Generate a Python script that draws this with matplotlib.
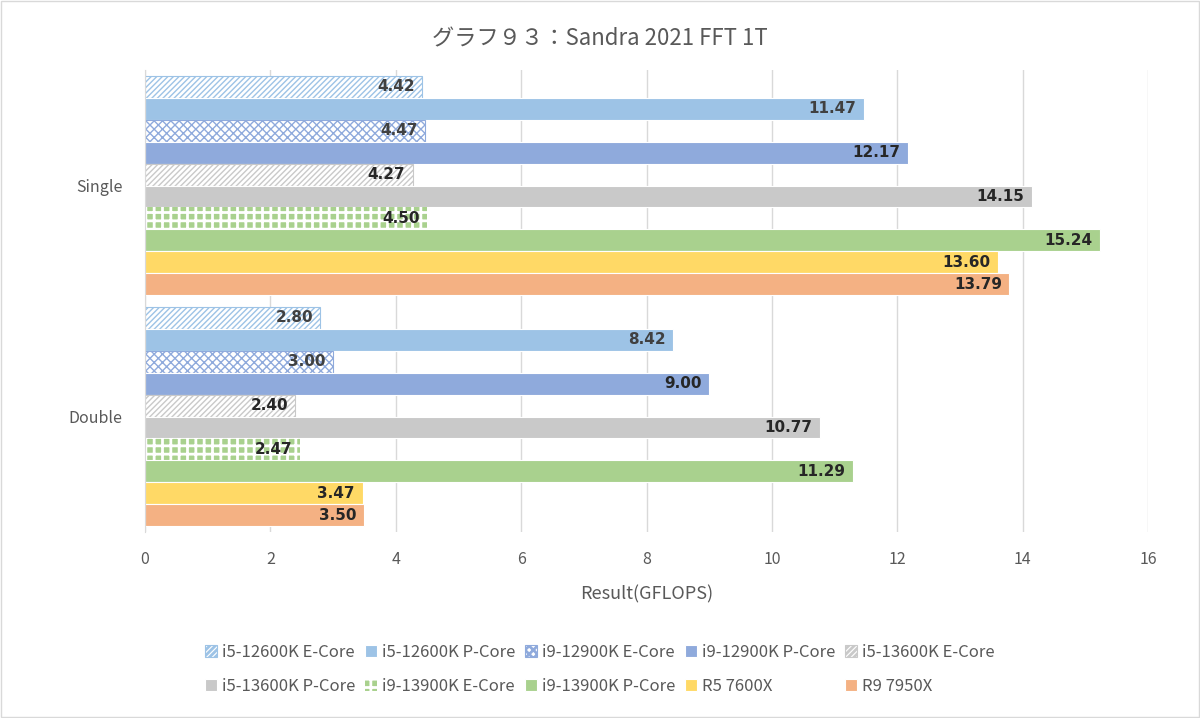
import matplotlib.pyplot as plt
import numpy as np

plt.rcParams['font.family'] = ['Noto Sans CJK JP', 'DejaVu Sans']

# データ
categories = ["Single", "Double"]
series = ["i5-12600K E-Core", "i5-12600K P-Core", "i9-12900K E-Core", "i9-12900K P-Core",
          "i5-13600K E-Core", "i5-13600K P-Core", "i9-13900K E-Core", "i9-13900K P-Core",
          "R5 7600X", "R9 7950X"]
single = [4.42, 11.47, 4.47, 12.17, 4.27, 14.15, 4.50, 15.24, 13.60, 13.79]
double = [2.80, 8.42, 3.00, 9.00, 2.40, 10.77, 2.47, 11.29, 3.47, 3.50]

colors = ["#9DC3E6", "#9DC3E6", "#8FAADC", "#8FAADC", "#C9C9C9", "#C9C9C9",
          "#A9D18E", "#A9D18E", "#FFD966", "#F4B183"]
hatches = ["//////", None, "xxxx", None, "//////", None, "++", None, None, None]
label_colors = ["#404040", "#404040", "#404040", "#262626", "#262626", "#262626",
                "#262626", "#262626", "#262626", "#262626"]

fig = plt.figure(figsize=(12, 7.18), dpi=100)
ax = fig.add_axes([0.1208, 0.259, 0.8359, 0.6435])

n = len(series)
h = 0.095
y = np.arange(len(categories))
handles = []
for i in range(n):
    vals = [single[i], double[i]]
    pos = y - h * n / 2 + h * (i + 0.5)
    if hatches[i] is None:
        b = ax.barh(pos, vals, height=h, color=colors[i], edgecolor="white", linewidth=0.8)
    elif hatches[i] == "++":
        # 市松模様の代わり
        plt.rcParams['hatch.linewidth'] = 2.0
        b = ax.barh(pos, vals, height=h, color=colors[i], edgecolor="white",
                    hatch="++", linewidth=0)
    else:
        plt.rcParams['hatch.linewidth'] = 1.0
        b = ax.barh(pos, vals, height=h, color="white", edgecolor=colors[i],
                    hatch=hatches[i], linewidth=0.8)
    handles.append(b)
    for p, v in zip(pos, vals):
        ax.text(v - 0.12, p, f"{v:.2f}", ha="right", va="center",
                fontsize=11, fontweight="bold", color=label_colors[i],
                family="DejaVu Sans")

ax.set_xlim(0, 16)
ax.set_ylim(len(categories) - 0.5, -0.5)
ax.set_xticks(range(0, 17, 2))
ax.set_yticks(y)
ax.set_yticklabels(categories)
ax.tick_params(axis="both", length=0, labelsize=11.5, colors="#595959")
ax.tick_params(axis="x", pad=14)
ax.tick_params(axis="y", pad=16)
ax.grid(axis="x", color="#D9D9D9", linewidth=1)
ax.set_axisbelow(True)
for s in ["top", "right", "bottom"]:
    ax.spines[s].set_visible(False)
ax.spines["left"].set_color("#D9D9D9")

ax.set_xlabel("Result(GFLOPS)", fontsize=13, color="#595959", labelpad=12)
fig.suptitle("グラフ９３：Sandra 2021 FFT 1T", fontsize=16, color="#595959", y=0.962)

order = [0, 5, 1, 6, 2, 7, 3, 8, 4, 9]
fig.legend([handles[i] for i in order], [series[i] for i in order],
           loc="center", bbox_to_anchor=(0.5, 0.068), ncol=5, frameon=False,
           fontsize=12, labelcolor="#595959", handlelength=0.7, handleheight=0.7,
           handletextpad=0.3, columnspacing=0.6, labelspacing=1.0)

fig.patches.append(plt.Rectangle((0.001, 0.001), 0.998, 0.998, transform=fig.transFigure,
                                 fill=False, edgecolor="#D9D9D9", linewidth=1))
fig.savefig("out.png", dpi=100)
